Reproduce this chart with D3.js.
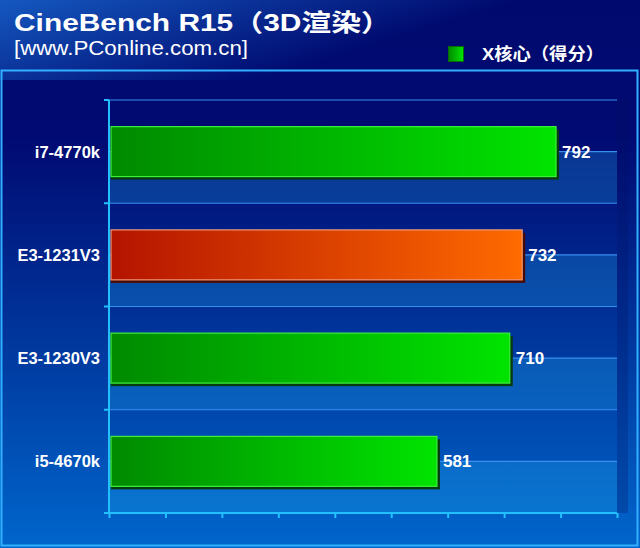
<!DOCTYPE html>
<html><head><meta charset="utf-8">
<script src="https://cdn.jsdelivr.net/npm/d3@7/dist/d3.min.js"></script>
<style>body{margin:0;background:#000a6c}svg{display:block}</style>
</head><body>
<script>
const categories = ["i7-4770k","E3-1231V3","E3-1230V3","i5-4670k"];
const values = [792,732,710,581];
const highlight = ["E3-1231V3"];
const tickValues = [0,100,200,300,400,500,600,700,800,900];
const titleText = "CineBench R15（3D渲染）";
const subtitleText = "[www.PConline.com.cn]";
const legendText = "X核心（得分）";

const W=640,H=548;
const svg=d3.select("body").append("svg").attr("width",W).attr("height",H);
const defs=svg.append("defs");
const bg=defs.append("linearGradient").attr("id","bg").attr("x1",0).attr("y1",0).attr("x2",0).attr("y2",1);
bg.append("stop").attr("offset","0%").attr("stop-color","#000a6e");
bg.append("stop").attr("offset","25%").attr("stop-color","#000a72");
bg.append("stop").attr("offset","60%").attr("stop-color","#00349a");
bg.append("stop").attr("offset","100%").attr("stop-color","#0066cc");
const tg=defs.append("linearGradient").attr("id","tg").attr("x1",0).attr("y1",0).attr("x2",1).attr("y2",0.4);
tg.append("stop").attr("offset","0%").attr("stop-color","#1458c0").attr("stop-opacity",1);
tg.append("stop").attr("offset","70%").attr("stop-color","#1458c0").attr("stop-opacity",0);
const gg=defs.append("linearGradient").attr("id","gg");
gg.append("stop").attr("offset","0%").attr("stop-color","#008a00");
gg.append("stop").attr("offset","100%").attr("stop-color","#00e400");
const og=defs.append("linearGradient").attr("id","og");
og.append("stop").attr("offset","0%").attr("stop-color","#b41400");
og.append("stop").attr("offset","100%").attr("stop-color","#ff6a00");

svg.append("rect").attr("width",W).attr("height",H).attr("fill","url(#bg)");
svg.append("rect").attr("width",W).attr("height",80).attr("fill","url(#tg)");

const x=d3.scaleLinear().domain([0,900]).range([109,617]);
const y=d3.scaleBand().domain(categories).range([100,513]).paddingInner(0.516).paddingOuter(0.258);
const step=y.step();

// side wall strip
svg.append("rect").attr("x",617).attr("y",100).attr("width",11).attr("height",413).attr("fill","#001060").attr("opacity",0.25);

// lighter bands (lower half of each category)
svg.selectAll(".band").data(categories).join("rect")
 .attr("x",x(0)).attr("width",x(900)-x(0))
 .attr("y",d=>y(d)-y.paddingOuter()*step+step/2).attr("height",step/2)
 .attr("fill","#28c8ff").attr("opacity",0.22);
// grid lines
const gl=[];categories.forEach(d=>{const t=y(d)-y.paddingOuter()*step;gl.push(t,t+step/2);});
svg.selectAll(".gl").data(gl).join("line")
 .attr("x1",x(0)).attr("x2",x(900)).attr("y1",d=>d).attr("y2",d=>d)
 .attr("stroke","#3a8ef0").attr("stroke-width",1.2);

// bars
const data=categories.map((c,i)=>({c,v:values[i]}));
svg.selectAll(".sh").data(data).join("rect")
 .attr("x",x(0)+2).attr("y",d=>y(d.c)+3).attr("width",d=>x(d.v)-x(0)+1).attr("height",y.bandwidth())
 .attr("fill",d=>highlight.includes(d.c)?"#4a0a00":"#063a10");
svg.selectAll(".bar").data(data).join("rect")
 .attr("x",x(0)+2).attr("y",d=>y(d.c)).attr("width",d=>x(d.v)-x(0)-2).attr("height",y.bandwidth())
 .attr("fill",d=>highlight.includes(d.c)?"url(#og)":"url(#gg)")
 .attr("stroke",d=>highlight.includes(d.c)?"#f09a78":"#3cf03c").attr("stroke-width",1.2);

// axes
const xa=svg.append("g").attr("transform","translate(0,513)")
 .call(d3.axisBottom(x).tickValues(tickValues).tickSize(5).tickFormat(""));
xa.select(".domain").attr("d","M104,0H617").attr("stroke","#22c0ff").attr("stroke-width",2);
xa.selectAll(".tick line").attr("stroke","#22c0ff").attr("stroke-width",2);
const ya=svg.append("g").attr("transform","translate(109,0)")
 .call(d3.axisLeft(y).tickSize(0).tickPadding(9));
ya.select(".domain").attr("d","M0,100V513").attr("stroke","#22c0ff").attr("stroke-width",2);
ya.selectAll(".tick text").attr("fill","#fff").attr("font-family","Liberation Sans, Arial, sans-serif")
 .attr("font-weight","bold").attr("font-size",16.5).attr("dy","0.36em").attr("dx",0);
svg.selectAll(".yt").data(categories.concat(["_end"])).join("line")
 .attr("x1",104).attr("x2",109)
 .attr("y1",(d,i)=>100+i*step).attr("y2",(d,i)=>100+i*step)
 .attr("stroke","#22c0ff").attr("stroke-width",2);

// value labels
svg.selectAll(".vl").data(data).join("text")
 .attr("x",d=>x(d.v)+6).attr("y",d=>y(d.c)+y.bandwidth()/2).attr("dy","0.36em")
 .attr("fill","#fff").attr("font-family","Liberation Sans, Arial, sans-serif").attr("font-weight","bold")
 .attr("font-size",17).text(d=>d.v);

// frame
svg.append("rect").attr("x",1.5).attr("y",70.5).attr("width",636).attr("height",475)
 .attr("fill","none").attr("stroke","#30b0ff").attr("stroke-width",2);

// title
svg.append("text").attr("x",14).attr("y",31).attr("fill","#fff")
 .attr("font-family","Liberation Sans, Arial, 'Noto Sans CJK SC', sans-serif").attr("font-weight","bold")
 .attr("font-size",24).attr("textLength",377).attr("lengthAdjust","spacingAndGlyphs").text(titleText);
svg.append("text").attr("x",14).attr("y",55).attr("fill","#fff")
 .attr("font-family","Liberation Sans, Arial, sans-serif")
 .attr("font-size",19.5).attr("textLength",234).attr("lengthAdjust","spacingAndGlyphs").text(subtitleText);

// legend
svg.append("rect").attr("x",448.5).attr("y",46.5).attr("width",15).attr("height",15)
 .attr("fill","url(#gg)").attr("stroke","#0a6a0a").attr("stroke-width",1);
svg.append("text").attr("x",482).attr("y",60).attr("fill","#fff")
 .attr("font-family","Liberation Sans, Arial, 'Noto Sans CJK SC', sans-serif").attr("font-weight","bold")
 .attr("font-size",17).attr("textLength",122).attr("lengthAdjust","spacingAndGlyphs").text(legendText);
</script>
</body></html>
